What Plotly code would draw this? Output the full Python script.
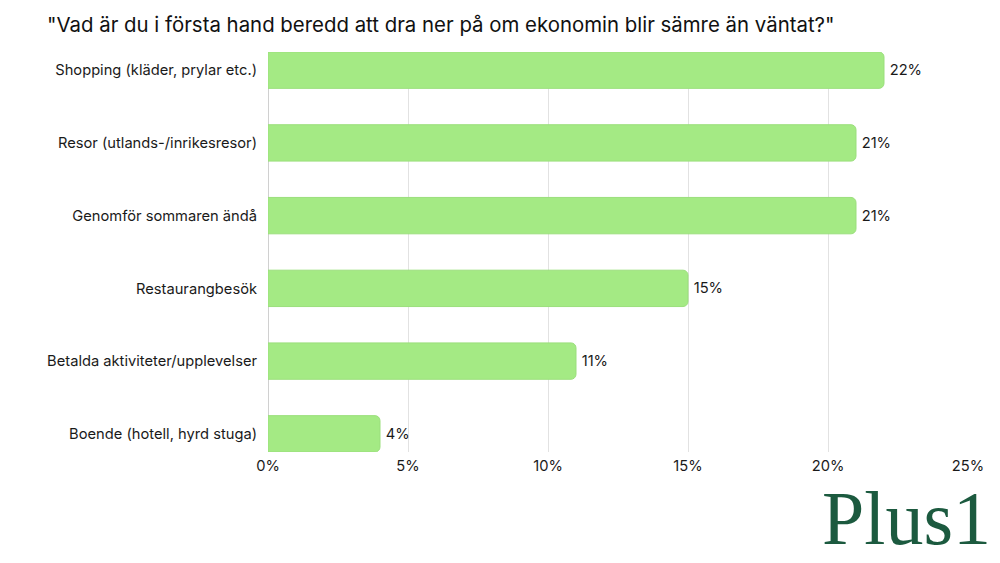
import plotly.graph_objects as go

# survey answers, top to bottom
categories = [
    "Shopping (kläder, prylar etc.)",
    "Resor (utlands-/inrikesresor)",
    "Genomför sommaren ändå",
    "Restaurangbesök",
    "Betalda aktiviteter/upplevelser",
    "Boende (hotell, hyrd stuga)",
]
values = [22, 21, 21, 15, 11, 4]
value_labels = ["22%", "21%", "21%", "15%", "11%", "4%"]

tick_vals = [0, 5, 10, 15, 20, 25]
tick_text = ["0%", "5%", "10%", "15%", "20%", "25%"]

title_text = '"Vad är du i första hand beredd att dra ner på om ekonomin blir sämre än väntat?"'
logo_text = "Plus1"

font_main = "Inter, Roboto, sans-serif"

fig = go.Figure()
fig.add_trace(go.Bar(
    x=values,
    y=categories,
    orientation="h",
    text=value_labels,
    texttemplate="\u2009%{text}",  # little extra gap after the bar end
    textposition="outside",
    textfont=dict(size=14.7, color="#1a1a1a", family=font_main),
    cliponaxis=False,
    marker=dict(color="#a4ea84", line=dict(color="#9bdf7c", width=1), cornerradius=5),
    showlegend=False,
))

# page has an 8px body margin, so everything is shifted up/left by 8
fig.update_layout(
    width=1000, height=563,
    paper_bgcolor="white", plot_bgcolor="white",
    margin=dict(l=260, r=40, t=44, b=119),
    bargap=0.5,
    font=dict(family=font_main, size=14.7, color="#1a1a1a"),
    title=dict(text=title_text, x=0.039, xanchor="left", y=1 - 17 / 563, yanchor="middle",
               font=dict(size=20.4, color="#111111", family=font_main)),
    xaxis=dict(range=[0, 25], tickvals=tick_vals, ticktext=tick_text,
               showgrid=True, gridcolor="#e2e2e2", gridwidth=1,
               zeroline=True, zerolinecolor="#d0d0d0", zerolinewidth=1,
               showline=False, ticks="", ticklabelstandoff=3,
               tickfont=dict(size=14.7, color="#1a1a1a")),
    yaxis=dict(categoryorder="array", categoryarray=categories,
               autorange=False, range=[5.25, -0.25],
               showgrid=False, ticks="", ticklabelstandoff=10,
               tickfont=dict(size=14.7, color="#1a1a1a")),
)

# brand mark in the bottom right corner
fig.add_annotation(
    text=logo_text, xref="paper", yref="paper",
    x=1.036, y=-0.165, xanchor="right", yanchor="middle",
    showarrow=False,
    font=dict(family="Liberation Serif, serif", size=76, color="#1c5a3f"),
)

fig.write_html("out.html")
